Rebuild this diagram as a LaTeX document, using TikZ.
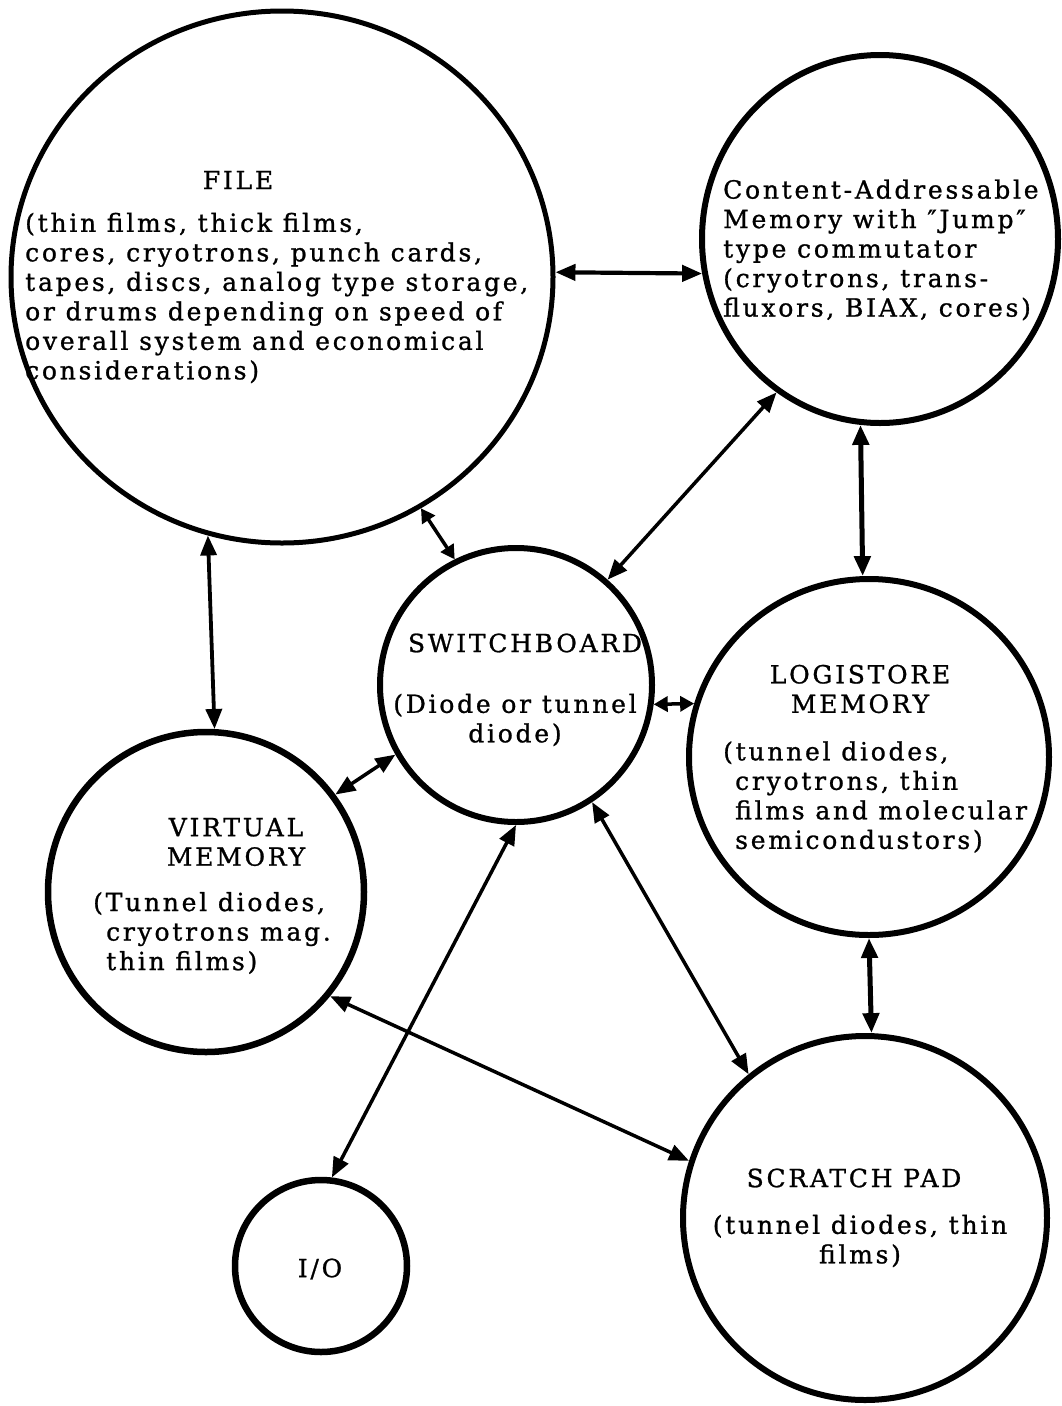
\documentclass[tikz,border=0pt]{standalone}
\usepackage{fontspec}
\setmainfont{DejaVu Serif}[LetterSpace=11,FakeBold=1]
\usetikzlibrary{shapes.geometric,arrows.meta}
\begin{document}
\begin{tikzpicture}[x=1pt,y=-1pt,
  ring/.style={draw, ellipse, line width=6pt, inner sep=0pt},
  lbl/.style={inner sep=0pt, font=\fontsize{25}{29.5}\selectfont},
  link/.style={line width=3.5pt, {Triangle[length=20pt,width=16pt]}-{Triangle[length=20pt,width=16pt]}},
  shortlink/.style={line width=3.5pt, {Triangle[length=14pt,width=15pt]}-{Triangle[length=14pt,width=15pt]}},
  heavy/.style={link, line width=5pt},
]
\fill[white] (0,0) rectangle (1062,1406);
\useasboundingbox (0,0) rectangle (1062,1406);

% circles
\node[ring, line width=5pt, minimum width=542pt, minimum height=532pt] (file) at (282,277) {};
\node[ring, minimum width=356pt, minimum height=368pt] (content) at (880,239) {};
\node[ring, minimum width=272pt, minimum height=274pt] (switch) at (516,685) {};
\node[ring, minimum width=360pt, minimum height=356pt] (logi) at (869,757) {};
\node[ring, line width=6.5pt, minimum width=316pt, minimum height=320pt] (virt) at (206,892) {};
\node[ring, minimum width=364pt, minimum height=364pt] (scratch) at (865,1218) {};
\node[ring, line width=6.5pt, minimum width=172pt, minimum height=172pt] (io) at (321,1266) {};

% texts
\node[lbl] (filet) at (238,180) {FILE};
\node[lbl, align=left, anchor=west] (fileb) at (25,298) {(thin films, thick films,\\cores, cryotrons, punch cards,\\tapes, discs, analog type storage,\\or drums depending on speed of\\overall system and economical\\considerations)};

\node[lbl, align=left, anchor=west] (contt) at (723,250) {Content-Addressable\\Memory with ″Jump″\\type commutator\\(cryotrons, trans-\\fluxors, BIAX, cores)};

\node[lbl] (swt) at (525,643) {SWITCHBOARD};
\node[lbl, align=center] (swb) at (515,720) {(Diode or tunnel\\diode)};

\node[lbl, align=center] (logt) at (860,689) {LOGISTORE\\MEMORY};
\node[lbl, align=left, anchor=west] (logb) at (723,797) {(tunnel diodes,\\\hspace*{12pt}cryotrons, thin\\\hspace*{12pt}films and molecular\\\hspace*{12pt}semicondustors)};

\node[lbl, align=center] (virtt) at (236,842) {VIRTUAL\\MEMORY};
\node[lbl, align=left, anchor=west] (virtb) at (93,933) {(Tunnel diodes,\\\hspace*{13pt}cryotrons mag.\\\hspace*{13pt}thin films)};

\node[lbl] (sct) at (854,1178) {SCRATCH PAD};
\node[lbl, align=center] (scb) at (860,1241) {(tunnel diodes, thin\\films)};

\node[lbl] (iot) at (320,1269) {I/O};

% connectors
\draw[link, line width=4.2pt] (file.1) -- (content.191);
\draw[shortlink] (file.301) -- (switch.116);
\draw[link] (content.236) -- (switch.49);
\draw[heavy] (content.264.4) -- (logi.92.3);
\draw[link, line width=3.8pt] (file.254.4) -- (virt.87.9);
\draw[shortlink] (switch.352.5) -- (logi.163.2);
\draw[link] (switch.210.7) -- (virt.37.5);
\draw[link] (switch.270.8) -- (io.83);
\draw[link] (switch.303.5) -- (scratch.129.3);
\draw[heavy] (logi.270) -- (scratch.88.5);
\draw[link] (virt.320.4) -- (scratch.162.7);
\end{tikzpicture}
\end{document}
